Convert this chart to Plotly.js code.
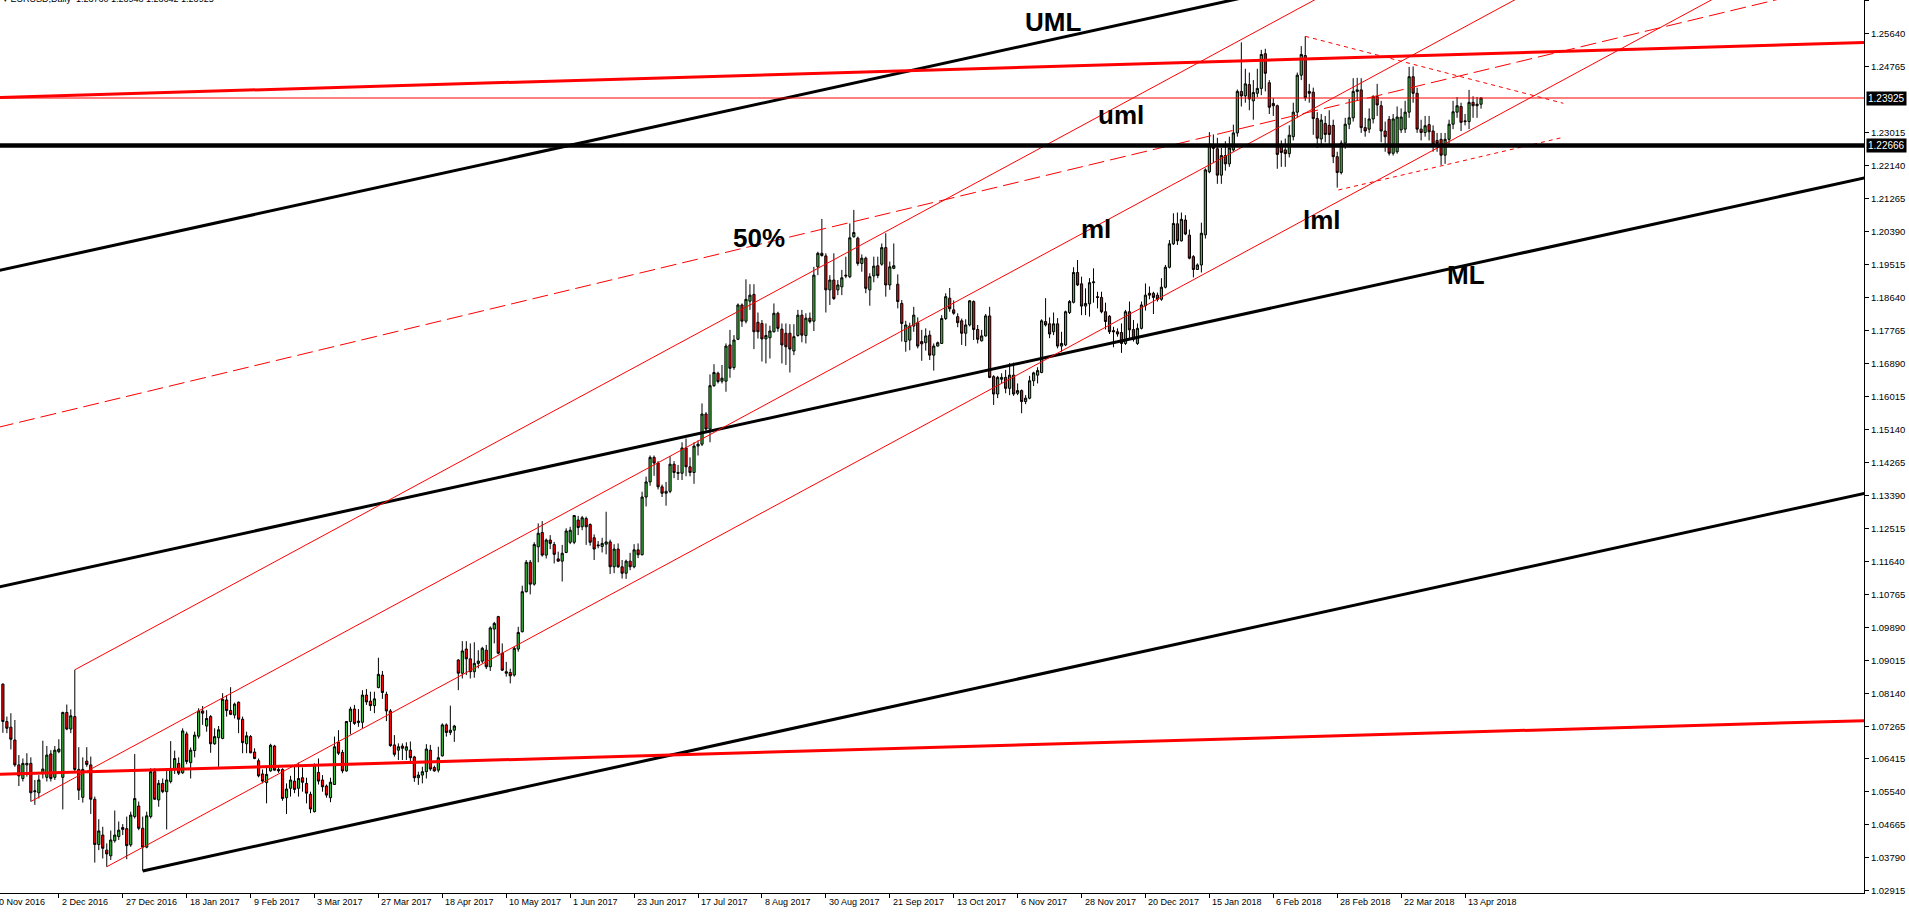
<!DOCTYPE html>
<html><head><meta charset="utf-8">
<script src="https://cdn.plot.ly/plotly-3.0.1.min.js"></script>
<style>html,body{margin:0;padding:0;background:#fff;overflow:hidden}#chart{width:1909px;height:913px}</style>
</head><body><div id="chart"></div>
<script>
// ---- chart values ----
const symbolTitle = "EURUSD,Daily";
const lastQuote = ["1.23760", "1.23948", "1.23642", "1.23925"];
const firstBar = 2; // bar index of first value (bar 0 = 10 Nov 2016)
const openP = [
1.0839,1.0740,1.0725,1.0691,1.0625,1.0589,1.0625,1.0629,1.0554,1.0551,
1.0604,1.0592,1.0654,1.0592,1.0660,1.0592,1.0764,1.0720,1.0753,1.0613,
1.0539,1.0635,1.0625,1.0534,1.0414,1.0439,1.0399,1.0384,1.0424,1.0435,
1.0454,1.0456,1.0413,1.0488,1.0516,1.0457,1.0407,1.0488,1.0607,1.0532,
1.0576,1.0554,1.0581,1.0613,1.0629,1.0604,1.0707,1.0631,1.0663,1.0701,
1.0768,1.0728,1.0753,1.0681,1.0697,1.0695,1.0797,1.0769,1.0757,1.0791,
1.0746,1.0681,1.0700,1.0659,1.0636,1.0601,1.0578,1.0609,1.0675,1.0613,
1.0613,1.0538,1.0563,1.0582,1.0563,1.0591,1.0576,1.0547,1.0501,1.0605,
1.0585,1.0569,1.0538,1.0573,1.0685,1.0658,1.0609,1.0740,1.0773,1.0737,
1.0738,1.0810,1.0794,1.0782,1.0830,1.0863,1.0812,1.0768,1.0678,1.0664,
1.0675,1.0664,1.0664,1.0646,1.0591,1.0598,1.0607,1.0664,1.0618,1.0611,
1.0649,1.0731,1.0711,1.0717,1.0903,1.0868,1.0932,1.0906,1.0872,1.0894,
1.0900,1.0929,1.0885,1.0985,1.1018,1.0921,1.0872,1.0870,1.0863,1.0932,
1.0978,1.1084,1.1162,1.1104,1.1203,1.1241,1.1181,1.1221,1.1209,1.1171,
1.1165,1.1188,1.1215,1.1215,1.1274,1.1256,1.1278,1.1262,1.1227,1.1208,
1.1204,1.1210,1.1216,1.1150,1.1197,1.1150,1.1133,1.1165,1.1150,1.1195,
1.1182,1.1335,1.1375,1.1440,1.1425,1.1362,1.1345,1.1350,1.1422,1.1400,
1.1398,1.1465,1.1415,1.1400,1.1470,1.1475,1.1555,1.1515,1.1630,1.1663,
1.1642,1.1642,1.1738,1.1678,1.1753,1.1844,1.1801,1.1854,1.1872,1.1798,
1.1795,1.1754,1.1757,1.1773,1.1822,1.1780,1.1769,1.1769,1.1722,1.1763,
1.1817,1.1763,1.1809,1.1801,1.1945,1.1981,1.1974,1.1884,1.1910,1.1884,
1.1892,1.1923,1.1919,1.2025,1.2021,1.1954,1.1968,1.1884,1.1921,1.1948,
1.1952,1.1996,1.1897,1.1941,1.1899,1.1848,1.1747,1.1751,1.1788,1.1797,
1.1747,1.1744,1.1764,1.1711,1.1735,1.1742,1.1808,1.1862,1.1831,1.1813,
1.1802,1.1769,1.1791,1.1853,1.1779,1.1749,1.1762,1.1815,1.1654,1.1608,
1.1647,1.1652,1.1623,1.1658,1.1610,1.1617,1.1588,1.1597,1.1643,1.1658,
1.1665,1.1800,1.1794,1.1773,1.1794,1.1735,1.1738,1.1824,1.1851,1.1930,
1.1900,1.1841,1.1847,1.1903,1.1866,1.1864,1.1826,1.1814,1.1776,1.1773,
1.1771,1.1742,1.1826,1.1779,1.1742,1.1782,1.1842,1.1875,1.1875,1.1870,
1.1859,1.1891,1.1944,1.2006,1.2059,1.2014,1.2069,1.2029,1.1972,1.1938,
1.1950,1.2030,1.2197,1.2265,1.2258,1.2188,1.2240,1.2218,1.2255,1.2300,
1.2410,1.2398,1.2428,1.2385,1.2405,1.2418,1.2510,1.2433,1.2378,1.2372,
1.2267,1.2255,1.2245,1.2290,1.2355,1.2453,1.2505,1.2410,1.2408,1.2338,
1.2284,1.2325,1.2320,1.2320,1.2237,1.2195,1.2273,1.2323,1.2340,1.2410,
1.2414,1.2314,1.2310,1.2337,1.2396,1.2372,1.2305,1.2336,1.2246,1.2250,
1.2308,1.2310,1.2355,1.2449,1.2405,1.2310,1.2301,1.2322,1.2305,1.2280,
1.2283,1.2241,1.2283,1.2323,1.2355,1.2370,1.2332,1.2330,1.2381,1.2372,1.23760];
const highP = [
1.0841,1.0753,1.0762,1.0744,1.0651,1.0642,1.0656,1.0645,1.0585,1.0598,
1.0689,1.0675,1.0664,1.0675,1.0693,1.0766,1.0785,1.0772,1.0877,1.0672,
1.0645,1.0672,1.0647,1.0541,1.0481,1.0461,1.0417,1.0451,1.0504,1.0475,
1.0468,1.0488,1.0501,1.0654,1.0528,1.0488,1.0501,1.0616,1.0616,1.0585,
1.0589,1.0611,1.0688,1.0663,1.0645,1.0722,1.0713,1.0671,1.0713,1.0775,
1.0781,1.0770,1.0757,1.0722,1.0728,1.0815,1.0810,1.0831,1.0790,1.0793,
1.0753,1.0713,1.0704,1.0669,1.0642,1.0613,1.0620,1.0681,1.0678,1.0620,
1.0616,1.0576,1.0596,1.0625,1.0631,1.0618,1.0591,1.0554,1.0629,1.0642,
1.0598,1.0573,1.0591,1.0700,1.0717,1.0665,1.0741,1.0779,1.0784,1.0773,
1.0823,1.0826,1.0819,1.0819,1.0909,1.0874,1.0819,1.0773,1.0704,1.0682,
1.0682,1.0685,1.0687,1.0649,1.0607,1.0620,1.0680,1.0678,1.0623,1.0673,
1.0735,1.0735,1.0782,1.0731,1.0905,1.0953,1.0953,1.0947,1.0950,1.0929,
1.0938,1.0943,1.0992,1.1004,1.1020,1.0947,1.0898,1.0880,1.0938,1.0991,
1.1100,1.1168,1.1168,1.1215,1.1265,1.1271,1.1225,1.1234,1.1216,1.1190,
1.1208,1.1252,1.1256,1.1287,1.1285,1.1285,1.1283,1.1265,1.1236,1.1218,
1.1227,1.1296,1.1222,1.1210,1.1212,1.1168,1.1169,1.1187,1.1210,1.1212,
1.1349,1.1389,1.1445,1.1445,1.1430,1.1368,1.1375,1.1443,1.1430,1.1420,
1.1480,1.1490,1.1440,1.1480,1.1485,1.1583,1.1560,1.1660,1.1687,1.1667,
1.1685,1.1742,1.1778,1.1764,1.1848,1.1848,1.1912,1.1899,1.1899,1.1824,
1.1804,1.1795,1.1789,1.1848,1.1826,1.1795,1.1795,1.1793,1.1793,1.1831,
1.1831,1.1822,1.1824,1.1945,1.1985,1.2072,1.1981,1.1923,1.1981,1.1910,
1.1937,1.1972,1.2060,1.2096,1.2025,1.1978,1.1972,1.1928,1.1972,1.1972,
1.2007,1.2034,1.1959,1.2007,1.1925,1.1857,1.1802,1.1797,1.1839,1.1811,
1.1778,1.1782,1.1776,1.1742,1.1747,1.1817,1.1875,1.1889,1.1856,1.1822,
1.1808,1.1806,1.1857,1.1856,1.1791,1.1778,1.1820,1.1839,1.1658,1.1656,
1.1663,1.1672,1.1690,1.1691,1.1636,1.1620,1.1605,1.1656,1.1667,1.1679,
1.1806,1.1862,1.1811,1.1824,1.1809,1.1773,1.1829,1.1857,1.1944,1.1963,
1.1919,1.1888,1.1915,1.1941,1.1879,1.1879,1.1850,1.1817,1.1786,1.1782,
1.1795,1.1831,1.1853,1.1804,1.1795,1.1853,1.1901,1.1893,1.1879,1.1877,
1.1915,1.1950,1.2016,1.2087,1.2089,1.2089,1.2082,1.2044,1.1976,1.1954,
1.2062,1.2206,1.2302,1.2296,1.2287,1.2260,1.2278,1.2290,1.2322,1.2415,
1.2540,1.2470,1.2460,1.2440,1.2470,1.2520,1.2523,1.2440,1.2392,1.2375,
1.2280,1.2285,1.2320,1.2380,1.2460,1.2530,1.2556,1.2430,1.2420,1.2355,
1.2350,1.2345,1.2360,1.2335,1.2250,1.2280,1.2340,1.2390,1.2445,1.2446,
1.2445,1.2340,1.2365,1.2400,1.2430,1.2385,1.2330,1.2345,1.2350,1.2370,
1.2365,1.2385,1.2475,1.2476,1.2420,1.2335,1.2345,1.2345,1.2320,1.2300,
1.2300,1.2300,1.2335,1.2385,1.2395,1.2380,1.2350,1.2414,1.2397,1.2395,1.23948];
const lowP = [
1.0710,1.0709,1.0666,1.0620,1.0569,1.0581,1.0594,1.0528,1.0519,1.0536,
1.0589,1.0581,1.0581,1.0585,1.0656,1.0507,1.0717,1.0709,1.0607,1.0532,
1.0525,1.0620,1.0495,1.0366,1.0399,1.0377,1.0355,1.0373,1.0419,1.0426,
1.0439,1.0375,1.0408,1.0483,1.0452,1.0344,1.0404,1.0483,1.0532,1.0514,
1.0550,1.0454,1.0576,1.0601,1.0598,1.0601,1.0627,1.0589,1.0645,1.0695,
1.0731,1.0713,1.0657,1.0678,1.0620,1.0693,1.0753,1.0757,1.0748,1.0709,
1.0656,1.0656,1.0656,1.0640,1.0592,1.0576,1.0523,1.0607,1.0610,1.0604,
1.0530,1.0495,1.0541,1.0550,1.0541,1.0554,1.0523,1.0497,1.0499,1.0573,
1.0554,1.0538,1.0526,1.0572,1.0651,1.0603,1.0607,1.0706,1.0731,1.0726,
1.0722,1.0784,1.0768,1.0762,1.0828,1.0800,1.0741,1.0673,1.0647,1.0638,
1.0638,1.0638,1.0633,1.0580,1.0572,1.0576,1.0589,1.0609,1.0607,1.0605,
1.0647,1.0700,1.0704,1.0686,1.0823,1.0854,1.0863,1.0854,1.0856,1.0881,
1.0894,1.0879,1.0874,1.0947,1.0918,1.0874,1.0859,1.0841,1.0859,1.0925,
1.0976,1.1082,1.1077,1.1100,1.1162,1.1177,1.1172,1.1197,1.1159,1.1164,
1.1111,1.1186,1.1210,1.1210,1.1234,1.1247,1.1208,1.1206,1.1168,1.1199,
1.1188,1.1183,1.1131,1.1133,1.1147,1.1119,1.1118,1.1141,1.1146,1.1173,
1.1180,1.1310,1.1365,1.1391,1.1355,1.1335,1.1312,1.1345,1.1385,1.1380,
1.1380,1.1390,1.1390,1.1370,1.1445,1.1470,1.1510,1.1480,1.1627,1.1636,
1.1636,1.1614,1.1651,1.1672,1.1751,1.1786,1.1795,1.1831,1.1727,1.1755,
1.1694,1.1689,1.1702,1.1771,1.1773,1.1689,1.1685,1.1665,1.1711,1.1760,
1.1745,1.1742,1.1795,1.1775,1.1923,1.1972,1.1824,1.1844,1.1857,1.1870,
1.1870,1.1915,1.1915,1.2022,1.1948,1.1932,1.1875,1.1842,1.1904,1.1915,
1.1948,1.1866,1.1884,1.1939,1.1835,1.1747,1.1720,1.1724,1.1773,1.1729,
1.1696,1.1723,1.1698,1.1670,1.1734,1.1741,1.1804,1.1826,1.1818,1.1785,
1.1738,1.1735,1.1787,1.1751,1.1742,1.1747,1.1760,1.1650,1.1579,1.1597,
1.1636,1.1610,1.1605,1.1603,1.1605,1.1557,1.1581,1.1594,1.1629,1.1636,
1.1663,1.1787,1.1756,1.1764,1.1729,1.1720,1.1735,1.1820,1.1848,1.1894,
1.1817,1.1817,1.1813,1.1850,1.1835,1.1822,1.1779,1.1767,1.1732,1.1760,
1.1717,1.1738,1.1756,1.1747,1.1738,1.1779,1.1829,1.1859,1.1820,1.1853,
1.1855,1.1888,1.1941,1.2003,1.2003,1.2012,1.2029,1.1965,1.1917,1.1937,
1.1930,1.2020,1.2193,1.2220,1.2165,1.2165,1.2200,1.2210,1.2250,1.2290,
1.2370,1.2380,1.2360,1.2335,1.2395,1.2400,1.2410,1.2350,1.2345,1.2205,
1.2210,1.2210,1.2235,1.2280,1.2340,1.2440,1.2385,1.2380,1.2295,1.2260,
1.2262,1.2275,1.2270,1.2220,1.2155,1.2190,1.2258,1.2310,1.2330,1.2385,
1.2300,1.2290,1.2300,1.2325,1.2345,1.2275,1.2250,1.2240,1.2240,1.2245,
1.2300,1.2300,1.2340,1.2380,1.2300,1.2280,1.2290,1.2280,1.2250,1.2250,
1.2215,1.2218,1.2270,1.2310,1.2340,1.2305,1.2320,1.2310,1.2340,1.2340,1.23642];
const closeP = [
1.0740,1.0722,1.0693,1.0625,1.0596,1.0629,1.0629,1.0551,1.0556,1.0585,
1.0614,1.0651,1.0589,1.0664,1.0667,1.0764,1.0720,1.0755,1.0613,1.0558,
1.0613,1.0626,1.0534,1.0414,1.0450,1.0404,1.0389,1.0426,1.0439,1.0452,
1.0459,1.0411,1.0492,1.0536,1.0457,1.0407,1.0490,1.0607,1.0534,1.0576,
1.0554,1.0585,1.0613,1.0642,1.0603,1.0715,1.0634,1.0664,1.0704,1.0768,
1.0762,1.0748,1.0681,1.0700,1.0718,1.0799,1.0769,1.0759,1.0786,1.0746,
1.0684,1.0702,1.0657,1.0642,1.0596,1.0582,1.0600,1.0677,1.0611,1.0609,
1.0536,1.0561,1.0585,1.0560,1.0589,1.0579,1.0550,1.0508,1.0625,1.0582,
1.0567,1.0545,1.0579,1.0673,1.0656,1.0609,1.0740,1.0773,1.0735,1.0741,
1.0810,1.0792,1.0782,1.0800,1.0865,1.0817,1.0768,1.0676,1.0653,1.0673,
1.0669,1.0673,1.0644,1.0591,1.0598,1.0607,1.0667,1.0614,1.0609,1.0644,
1.0731,1.0711,1.0717,1.0728,1.0868,1.0927,1.0906,1.0872,1.0894,1.0900,
1.0934,1.0885,1.0988,1.1000,1.0921,1.0876,1.0868,1.0861,1.0934,1.0976,
1.1084,1.1162,1.1104,1.1209,1.1239,1.1181,1.1221,1.1212,1.1183,1.1165,
1.1186,1.1245,1.1247,1.1286,1.1254,1.1280,1.1256,1.1215,1.1197,1.1206,
1.1212,1.1216,1.1150,1.1197,1.1150,1.1133,1.1165,1.1150,1.1195,1.1182,
1.1335,1.1375,1.1440,1.1425,1.1362,1.1345,1.1350,1.1422,1.1400,1.1398,
1.1465,1.1415,1.1400,1.1470,1.1475,1.1555,1.1515,1.1630,1.1665,1.1641,
1.1650,1.1735,1.1676,1.1751,1.1844,1.1801,1.1859,1.1870,1.1773,1.1773,
1.1754,1.1763,1.1775,1.1822,1.1782,1.1738,1.1733,1.1727,1.1760,1.1817,
1.1764,1.1809,1.1800,1.1923,1.1981,1.1975,1.1884,1.1910,1.1861,1.1897,
1.1916,1.1921,1.2022,1.2036,1.1954,1.1968,1.1888,1.1919,1.1947,1.1922,
1.1996,1.1897,1.1945,1.1948,1.1853,1.1795,1.1791,1.1788,1.1817,1.1735,
1.1741,1.1762,1.1711,1.1735,1.1744,1.1808,1.1866,1.1834,1.1822,1.1797,
1.1769,1.1791,1.1855,1.1779,1.1753,1.1762,1.1815,1.1652,1.1608,1.1652,
1.1652,1.1623,1.1658,1.1608,1.1617,1.1588,1.1597,1.1643,1.1664,1.1670,
1.1802,1.1791,1.1767,1.1794,1.1735,1.1742,1.1826,1.1853,1.1930,1.1897,
1.1841,1.1848,1.1903,1.1905,1.1864,1.1826,1.1800,1.1773,1.1773,1.1767,
1.1742,1.1826,1.1778,1.1753,1.1782,1.1844,1.1870,1.1870,1.1864,1.1859,
1.1891,1.1944,1.2006,1.2060,1.2014,1.2071,1.2032,1.1968,1.1938,1.1950,
1.2034,1.2202,1.2270,1.2259,1.2188,1.2240,1.2218,1.2260,1.2300,1.2410,
1.2398,1.2430,1.2390,1.2407,1.2418,1.2508,1.2458,1.2368,1.2372,1.2243,
1.2248,1.2245,1.2294,1.2355,1.2453,1.2508,1.2393,1.2405,1.2338,1.2286,
1.2334,1.2296,1.2296,1.2237,1.2195,1.2273,1.2323,1.2340,1.2410,1.2414,
1.2314,1.2305,1.2337,1.2396,1.2374,1.2305,1.2290,1.2246,1.2337,1.2342,
1.2342,1.2355,1.2449,1.2405,1.2310,1.2301,1.2319,1.2303,1.2270,1.2272,
1.2241,1.2283,1.2323,1.2356,1.2372,1.2328,1.2330,1.2381,1.2372,1.2376,1.23925];

const dateLabels = ["10 Nov 2016","2 Dec 2016","27 Dec 2016","18 Jan 2017","9 Feb 2017","3 Mar 2017",
  "27 Mar 2017","18 Apr 2017","10 May 2017","1 Jun 2017","23 Jun 2017","17 Jul 2017","8 Aug 2017",
  "30 Aug 2017","21 Sep 2017","13 Oct 2017","6 Nov 2017","28 Nov 2017","20 Dec 2017","15 Jan 2018",
  "6 Feb 2018","28 Feb 2018","22 Mar 2018","13 Apr 2018"];
const dateLabelBars = dateLabels.map((d, k) => 16 * k);
const priceTicks = [1.02915,1.03790,1.04665,1.05540,1.06415,1.07265,1.08140,1.09015,1.09890,1.10765,
  1.11640,1.12515,1.13390,1.14265,1.15140,1.16015,1.16890,1.17765,1.18640,1.19515,1.20390,
  1.21265,1.22140,1.23015,1.24765,1.25640,1.26515];

// trend-line anchors (bar index, price)
const umlBars = [-10, 330],  umlPrices = [1.19097, 1.26992];   // black upper fork line
const mlBars  = [-10, 480],  mlPrices  = [1.10708, 1.22086];   // black median line
const lmlBars = [37, 480],   lmlPrices = [1.0344, 1.13727];    // black lower fork line
const redTopBars = [-10, 480], redTopPrices = [1.23906, 1.25434]; // thick red upper
const redLowBars = [-10, 480], redLowPrices = [1.05967, 1.07460]; // thick red lower
const rUpBars  = [20, 350],  rUpPrices  = [1.0877, 1.2765];    // red fork upper (uml)
const rMidBars = [9, 480],   rMidPrices = [1.0528, 1.32221];   // red fork median (ml)
const rLowBars = [28, 480],  rLowPrices = [1.0355, 1.29404];   // red fork lower (lml)
const halfBars = [-10, 480], halfPrices = [1.14921, 1.27396];  // 50% dashed
const triTopBars = [328, 392.6], triTopPrices = [1.2556, 1.23785];
const triLowBars = [336.3, 392.6], triLowPrices = [1.21487, 1.22884];
const supportLevel = 1.22666;
const lastPrice = 1.23925;

// ---- drawing ----
const xRange = [1.2766, 467.86];
const yRange = [1.028545, 1.265226];
const barX = openP.map((v, k) => firstBar + k);
const FONT = 'Liberation Sans, Arial, sans-serif';

const traces = [{
  type: 'candlestick', x: barX, open: openP, high: highP, low: lowP, close: closeP,
  increasing: {line: {color: '#000', width: 1}, fillcolor: '#3cbc3c'},
  decreasing: {line: {color: '#000', width: 1}, fillcolor: '#ff0000'},
  whiskerwidth: 0, hoverinfo: 'skip', showlegend: false
}];
function addLine(xs, ys, color, width, dash) {
  traces.push({type: 'scatter', mode: 'lines', x: xs, y: ys, hoverinfo: 'skip', showlegend: false,
    line: {color: color, width: width, dash: dash || 'solid'}});
}
addLine(umlBars, umlPrices, '#000', 3);
addLine(mlBars, mlPrices, '#000', 3);
addLine(lmlBars, lmlPrices, '#000', 3);
addLine(redTopBars, redTopPrices, '#ff0000', 3);
addLine(redLowBars, redLowPrices, '#ff0000', 3);
addLine(rUpBars, rUpPrices, '#ff0000', 1);
addLine(rMidBars, rMidPrices, '#ff0000', 1);
addLine(rLowBars, rLowPrices, '#ff0000', 1);
addLine(halfBars, halfPrices, '#ff0000', 1, '16px,6px');
addLine(triTopBars, triTopPrices, '#ff0000', 1, '4px,4px');
addLine(triLowBars, triLowPrices, '#ff0000', 1, '4px,4px');
addLine([xRange[0] - 5, xRange[1] + 5], [lastPrice, lastPrice], '#ff0000', 1);
addLine([xRange[0] - 5, xRange[1] + 5], [supportLevel, supportLevel], '#000', 4.5);

const toPaperX = b => (b - xRange[0]) / (xRange[1] - xRange[0]);
const annotations = [];
dateLabels.forEach((t, k) => annotations.push({
  xref: 'paper', yref: 'paper', x: toPaperX(dateLabelBars[k]), y: 0, xanchor: 'left', yanchor: 'top',
  xshift: dateLabelBars[k] < xRange[0] ? -3 : 1, yshift: -2, text: t, showarrow: false,
  font: {family: FONT, size: 9, color: '#000'}
}));
const bigFont = {family: FONT, size: 26, color: '#000', weight: 'bold'};
[['UML', 264.9, 1.2594], ['uml', 281.9, 1.2347], ['ml', 275.6, 1.2045], ['lml', 332.2, 1.2069],
 ['ML', 368.2, 1.1923], ['50%', 191.3, 1.2021]].forEach(a => annotations.push({
  xref: 'x', yref: 'y', x: a[1], y: a[2], text: '<b>' + a[0] + '</b>', showarrow: false,
  xanchor: 'center', yanchor: 'middle', font: bigFont
}));
[lastPrice, supportLevel].forEach(v => annotations.push({
  xref: 'paper', yref: 'y', x: 1, y: v, xanchor: 'left', yanchor: 'middle', xshift: 2,
  text: v.toFixed(5), showarrow: false, bgcolor: '#000', borderpad: 1,
  font: {family: FONT, size: 10, color: '#fff'}
}));
annotations.push({
  xref: 'paper', yref: 'paper', x: 0, y: 1, xanchor: 'left', yanchor: 'middle', xshift: 1, yshift: 1,
  text: '\u25BE ' + symbolTitle + '  ' + lastQuote.join(' '), showarrow: false,
  font: {family: FONT, size: 9, color: '#000'}
});

const layout = {
  width: 1909, height: 913, margin: {l: 0, r: 45, t: 0, b: 20},
  paper_bgcolor: '#fff', plot_bgcolor: '#fff', showlegend: false, boxgap: 0.22,
  xaxis: {range: xRange, showgrid: false, zeroline: false, showline: true, linecolor: '#000', linewidth: 1,
    ticks: 'outside', ticklen: 4, tickcolor: '#000', tickvals: dateLabelBars,
    ticktext: dateLabels.map(() => ''), rangeslider: {visible: false}, fixedrange: true},
  yaxis: {range: yRange, side: 'right', showgrid: false, zeroline: false, showline: true, linecolor: '#000',
    linewidth: 1, ticks: 'outside', ticklen: 4, tickcolor: '#000', tickvals: priceTicks,
    ticktext: priceTicks.map(v => v.toFixed(5)), tickfont: {family: FONT, size: 9.5, color: '#000'},
    fixedrange: true},
  annotations: annotations
};
Plotly.newPlot('chart', traces, layout, {staticPlot: true, displayModeBar: false});
</script></body></html>
